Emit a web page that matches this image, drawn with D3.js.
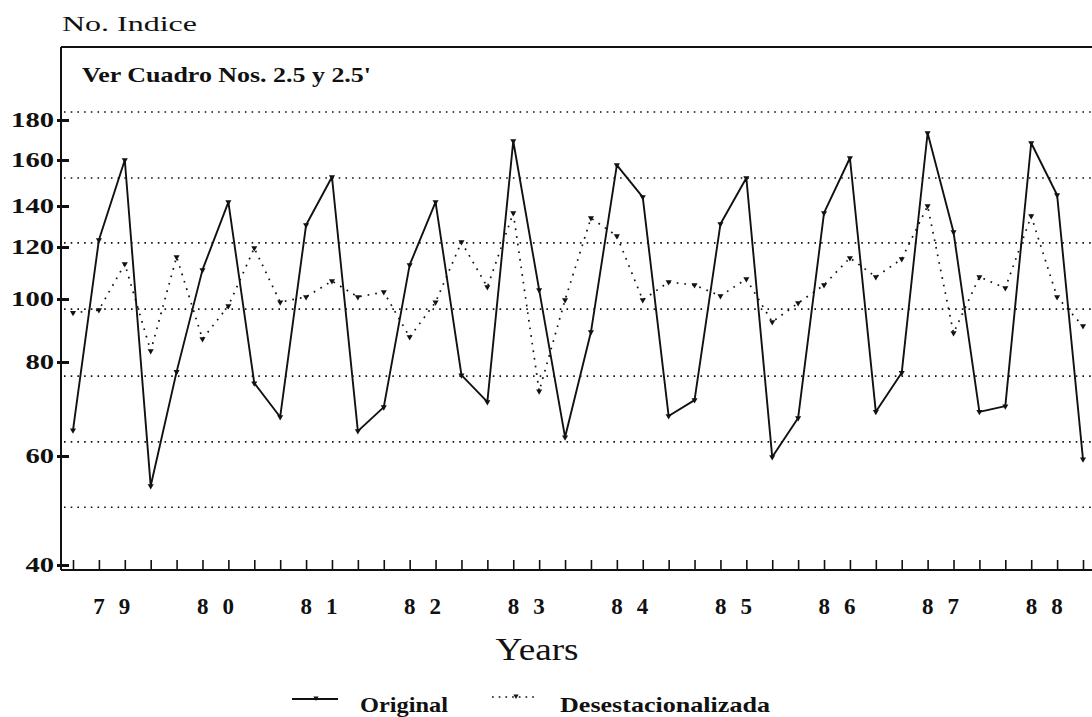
<!DOCTYPE html>
<html>
<head>
<meta charset="utf-8">
<script src="https://cdn.jsdelivr.net/npm/d3@7"></script>
<style>
  html, body { margin: 0; padding: 0; background: #fff; }
  svg { display: block; }
  text { fill: #111; }
</style>
</head>
<body>
<svg id="chart" width="1092" height="717"></svg>
<script>
// ---------- data ----------
const years = ["79", "80", "81", "82", "83", "84", "85", "86", "87", "88"];
const quartersPerYear = 4;
const original = [
  65.5, 123.4, 160.0, 54.5, 77.9, 111.2, 141.7, 75.5, 68.3, 130.7,
  152.6, 65.3, 70.4, 113.1, 141.7, 77.2, 71.5, 169.5, 103.5, 64.0,
  89.5, 157.8, 143.9, 68.5, 71.9, 131.2, 152.2, 59.8, 68.1, 136.6,
  161.0, 69.4, 77.7, 173.5, 127.3, 69.4, 70.6, 168.5, 144.8, 59.4
];
const desestacionalizada = [
  95.6, 96.5, 113.5, 83.5, 116.2, 87.3, 97.8, 119.6, 99.0, 100.8,
  106.9, 100.8, 102.7, 87.9, 99.0, 122.4, 104.6, 136.6, 73.8, 99.7,
  134.1, 125.4, 99.7, 106.5, 105.4, 101.2, 107.7, 92.7, 98.7, 105.4,
  115.8, 108.5, 115.4, 140.0, 89.2, 108.5, 104.2, 135.1, 100.8, 91.4
];
const yTickValues = [40, 60, 80, 100, 120, 140, 160, 180];
const gridValues = [50.6, 63, 77, 96.8, 122, 152.2, 184];
const seriesNames = ["Original", "Desestacionalizada"];

// ---------- layout ----------
const W = 1092, H = 717;
const frame = { left: 61, top: 47, bottom: 570, right: 1092 };
const yPixelStops = [565, 456, 362, 299, 247, 206, 160, 120]; // scanned axis positions of tick values
const ink = "#111";
const serif = "'Liberation Serif', 'DejaVu Serif', serif";

const svg = d3.select("#chart");
svg.append("rect").attr("width", W).attr("height", H).attr("fill", "#fff");

const nQ = original.length;
const x = d3.scaleLinear().domain([0, nQ - 1]).range([73, 1083]);
const y = d3.scaleLinear().domain(yTickValues).range(yPixelStops);

// gridlines
svg.append("g").selectAll("line").data(gridValues).join("line")
  .attr("x1", frame.left + 3).attr("x2", frame.right)
  .attr("y1", d => y(d)).attr("y2", d => y(d))
  .attr("stroke", ink).attr("stroke-width", 1.6)
  .attr("stroke-dasharray", "1.6 5.1");

// frame lines
svg.append("line").attr("x1", frame.left).attr("x2", frame.right)
  .attr("y1", frame.top).attr("y2", frame.top).attr("stroke", ink).attr("stroke-width", 2);
svg.append("line").attr("x1", frame.left).attr("x2", frame.left)
  .attr("y1", frame.top).attr("y2", frame.bottom).attr("stroke", ink).attr("stroke-width", 2);
svg.append("line").attr("x1", frame.left).attr("x2", frame.right)
  .attr("y1", frame.bottom).attr("y2", frame.bottom).attr("stroke", ink).attr("stroke-width", 2);

// y axis
const yAxis = svg.append("g")
  .attr("transform", `translate(${frame.left},0)`)
  .call(d3.axisLeft(y).tickValues(yTickValues).tickSizeInner(4).tickSizeOuter(0).tickPadding(3)
        .tickFormat(d3.format("d")));
yAxis.select(".domain").remove();
yAxis.selectAll(".tick line").attr("x1", 8).attr("stroke", ink).attr("stroke-width", 3);
yAxis.selectAll(".tick text")
  .attr("font-family", serif).attr("font-weight", "bold").attr("font-size", 21)
  .attr("fill", ink).attr("dy", "0.33em")
  .attr("textLength", d => String(d).length * 14.3).attr("lengthAdjust", "spacingAndGlyphs");

// x axis (quarter ticks pointing up)
const xAxis = svg.append("g")
  .attr("transform", `translate(0,${frame.bottom})`)
  .call(d3.axisBottom(x).tickValues(d3.range(nQ)).tickSizeInner(-10).tickSizeOuter(0).tickFormat(""));
xAxis.select(".domain").remove();
xAxis.selectAll(".tick line").attr("stroke", ink).attr("stroke-width", 1.6);

// year labels
svg.append("g").selectAll("text").data(years).join("text")
  .attr("x", (d, i) => x(i * quartersPerYear + 1.5))
  .attr("y", 614)
  .attr("text-anchor", "middle")
  .attr("font-family", serif).attr("font-weight", "bold").attr("font-size", 23)
  .attr("textLength", 37).attr("lengthAdjust", "spacing")
  .text(d => d);

// axis titles and notes
svg.append("text").attr("x", 62).attr("y", 31)
  .attr("font-family", serif).attr("font-size", 22)
  .attr("textLength", 135).attr("lengthAdjust", "spacingAndGlyphs")
  .text("No. Indice");
svg.append("text").attr("x", 82).attr("y", 82)
  .attr("font-family", serif).attr("font-weight", "bold").attr("font-size", 21)
  .attr("textLength", 289).attr("lengthAdjust", "spacingAndGlyphs")
  .text("Ver Cuadro Nos. 2.5 y 2.5'");
svg.append("text").attr("x", 537).attr("y", 660).attr("text-anchor", "middle")
  .attr("font-family", serif).attr("font-size", 31)
  .attr("textLength", 83).attr("lengthAdjust", "spacingAndGlyphs")
  .text("Years");

// series
const line = d3.line().x((d, i) => x(i)).y(d => y(d));
const marker = d3.symbol().type(d3.symbolTriangle).size(16);

svg.append("path").datum(original)
  .attr("d", line).attr("fill", "none")
  .attr("stroke", ink).attr("stroke-width", 1.9).attr("stroke-linejoin", "round");
svg.append("g").selectAll("path").data(original).join("path")
  .attr("d", marker)
  .attr("transform", (d, i) => `translate(${x(i)},${y(d)}) rotate(180)`)
  .attr("fill", ink);

svg.append("path").datum(desestacionalizada)
  .attr("d", line).attr("fill", "none")
  .attr("stroke", ink).attr("stroke-width", 1.7)
  .attr("stroke-dasharray", "1.7 6").attr("stroke-linecap", "butt");
svg.append("g").selectAll("path").data(desestacionalizada).join("path")
  .attr("d", marker)
  .attr("transform", (d, i) => `translate(${x(i)},${y(d)}) rotate(180)`)
  .attr("fill", ink);

// legend
const legend = svg.append("g");
const legendItems = [
  { name: seriesNames[0], x0: 292, lx: 360, len: 88, dash: null, ly: 699 },
  { name: seriesNames[1], x0: 492, lx: 560, len: 210, dash: "1.7 5", ly: 697 }
];
legendItems.forEach(it => {
  legend.append("line").attr("x1", it.x0).attr("x2", it.x0 + 46)
    .attr("y1", it.ly).attr("y2", it.ly)
    .attr("stroke", ink).attr("stroke-width", it.dash ? 1.6 : 1.8)
    .attr("stroke-dasharray", it.dash);
  legend.append("path").attr("d", d3.symbol().type(d3.symbolTriangle).size(12))
    .attr("transform", `translate(${it.x0 + 24},${it.ly - 1}) rotate(180)`).attr("fill", ink);
  legend.append("text").attr("x", it.lx).attr("y", 712)
    .attr("font-family", serif).attr("font-weight", "bold").attr("font-size", 21)
    .attr("textLength", it.len).attr("lengthAdjust", "spacingAndGlyphs")
    .text(it.name);
});
</script>
</body>
</html>
